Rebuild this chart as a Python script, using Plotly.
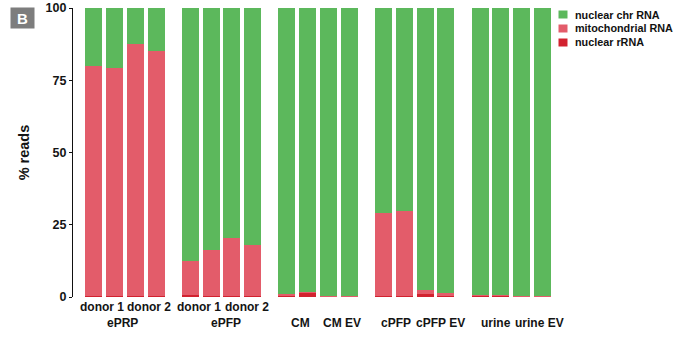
import plotly.graph_objects as go

# ---- data ----
series_names = ["nuclear rRNA", "mitochondrial RNA", "nuclear chr RNA"]
series_colors = ["#d2222f", "#e35c6a", "#5cb85c"]

# 5 groups x 4 bars
nuclear_rrna = [0.2, 0.2, 0.2, 0.2,
                0.8, 0.4, 0.4, 0.4,
                0.6, 1.6, 0.0, 0.0,
                0.2, 0.4, 1.2, 0.5,
                0.5, 0.5, 0.0, 0.0]
mito_rna = [79.7, 79.0, 87.3, 84.9,
            11.7, 16.0, 20.1, 17.5,
            0.3, 0.2, 0.3, 0.3,
            28.8, 29.2, 1.1, 1.0,
            0.2, 0.3, 0.4, 0.4]
nuclear_chr = [20.1, 20.8, 12.5, 14.9,
               87.5, 83.6, 79.5, 82.1,
               99.1, 98.2, 99.7, 99.7,
               71.0, 70.4, 97.7, 98.5,
               99.3, 99.2, 99.6, 99.6]

n_groups = 5
bars_per_group = 4
row1_labels = ["donor 1", "donor 2", "donor 1", "donor 2"]        # pairs of groups 1-2
row2_group_labels = ["ePRP", "ePFP"]                                # centred under whole group
row2_pair_labels = ["CM", "CM EV", "cPFP", "cPFP EV", "urine", "urine EV"]  # pairs of groups 3-5
y_ticks = [0, 25, 50, 75, 100]

# ---- layout helpers (positions / styles) ----
W, H = 680, 342
ML, MR, MT, MB = 73, 125, 8, 45
GROUP_PITCH = 4.64
PX_PER_UNIT = 20.82
row1_shift_px = [-2.5, 3, -1.5, 4.5]
row2_group_shift_px = [-2.5, 4.5]
row2_pair_shift_px = [3.5, 3, 2.5, 5, 5.5, 7.5]

xs = [g * GROUP_PITCH + i for g in range(n_groups) for i in range(bars_per_group)]
pair_centers = [g * GROUP_PITCH + p * 2 + 0.5 for g in range(n_groups) for p in range(2)]

def px_to_paper_x(px):
    return (px - ML) / (W - ML - MR)

def px_to_paper_y(py):
    return 1 - (py - MT) / (H - MT - MB)

FONT = "Liberation Sans, Arial, sans-serif"
TXT = "#141414"

fig = go.Figure()
for name, vals, col in zip(series_names, [nuclear_rrna, mito_rna, nuclear_chr], series_colors):
    fig.add_trace(go.Bar(x=xs, y=vals, name=name, marker=dict(color=col, line=dict(width=0)),
                         width=0.82, showlegend=False))

annotations = []
lab_font = dict(size=12, color=TXT, family=FONT, weight="bold")
for xc, lab, sh in zip(pair_centers[:4], row1_labels, row1_shift_px):
    annotations.append(dict(x=xc + sh / PX_PER_UNIT, y=0, xref="x", yref="paper", text=lab,
                            showarrow=False, yanchor="middle", yshift=-10, font=lab_font))
for g, (lab, sh) in enumerate(zip(row2_group_labels, row2_group_shift_px)):
    annotations.append(dict(x=g * GROUP_PITCH + 1.5 + sh / PX_PER_UNIT, y=0, xref="x", yref="paper",
                            text=lab, showarrow=False, yanchor="middle", yshift=-26, font=lab_font))
for xc, lab, sh in zip(pair_centers[4:], row2_pair_labels, row2_pair_shift_px):
    annotations.append(dict(x=xc + sh / PX_PER_UNIT, y=0, xref="x", yref="paper", text=lab,
                            showarrow=False, yanchor="middle", yshift=-26, font=lab_font))

# manual legend (top to bottom: chr, mito, rRNA)
shapes = []
legend_rows = [14.5, 28.5, 42.5]
for row_y, idx in zip(legend_rows, [2, 1, 0]):
    shapes.append(dict(type="rect", xref="paper", yref="paper",
                       x0=px_to_paper_x(558.5), x1=px_to_paper_x(567.5),
                       y0=px_to_paper_y(row_y - 4), y1=px_to_paper_y(row_y + 4),
                       fillcolor=series_colors[idx], line=dict(width=0)))
    annotations.append(dict(x=px_to_paper_x(573), y=px_to_paper_y(row_y), xref="paper", yref="paper",
                            text=series_names[idx], showarrow=False, xanchor="left", yanchor="middle",
                            font=dict(size=10.8, color="#111", family=FONT, weight="bold")))

# panel letter
annotations.append(dict(x=px_to_paper_x(22.5), y=px_to_paper_y(18), xref="paper", yref="paper",
                        text="<b>B</b>", showarrow=False, xanchor="center", yanchor="middle",
                        width=21, height=18, bgcolor="#7d7d7d",
                        font=dict(size=15, color="white", family=FONT)))

fig.update_layout(
    width=W, height=H, margin=dict(l=ML, r=MR, t=MT, b=MB, autoexpand=False),
    barmode="stack", plot_bgcolor="white", paper_bgcolor="white",
    bargap=0, showlegend=False,
    annotations=annotations, shapes=shapes,
    font=dict(family=FONT, color=TXT),
)
fig.update_xaxes(range=[-0.99, 22.16], showticklabels=False, showgrid=False, zeroline=False,
                 showline=False, ticks="", automargin=False)
fig.update_yaxes(range=[0, 100], tickvals=y_ticks, ticktext=[str(v) for v in y_ticks],
                 showgrid=False, zeroline=False, showline=True, linecolor="#111", linewidth=1.3,
                 ticks="outside", ticklen=3, tickcolor="#111", automargin=False,
                 tickfont=dict(size=12.5, family=FONT, color=TXT, weight="bold"),
                 title=dict(text="% reads", standoff=12,
                            font=dict(size=14.5, family=FONT, color=TXT, weight="bold")))

fig.write_html("out.html")
